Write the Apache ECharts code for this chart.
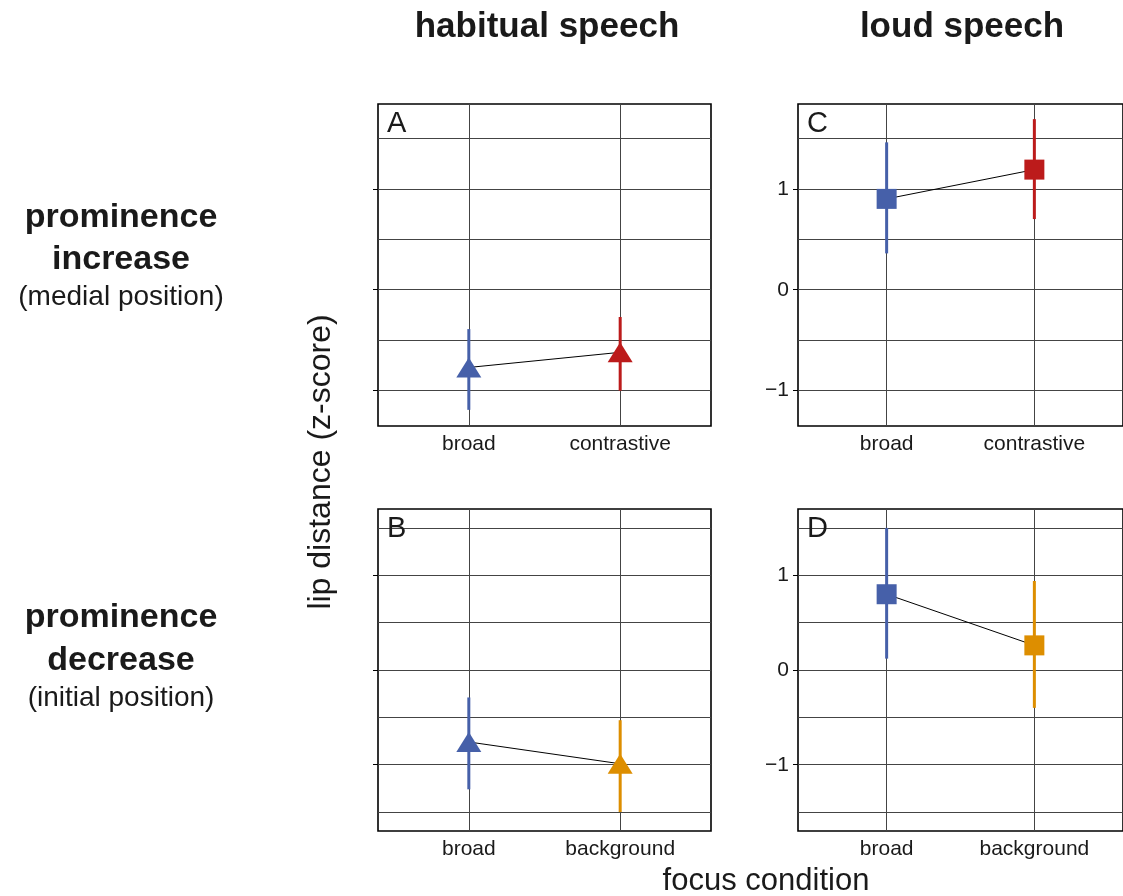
<!DOCTYPE html>
<html>
<head>
<meta charset="utf-8">
<script src="https://cdn.jsdelivr.net/npm/echarts@6/dist/echarts.min.js"></script>
<style>
  html, body { margin: 0; padding: 0; background: #fff; }
  #chart { width: 1123px; height: 896px; }
</style>
</head>
<body>
<div id="chart"></div>
<script>
// categories
const catsIncrease = ['broad', 'contrastive']
const catsDecrease = ['broad', 'background']

// panel A: habitual speech, prominence increase
const habIncMean = [-0.77, -0.62]
const habIncLow = [-1.19, -1.0]
const habIncHigh = [-0.39, -0.27]
// panel C: loud speech, prominence increase
const loudIncMean = [0.9, 1.19]
const loudIncLow = [0.36, 0.7]
const loudIncHigh = [1.46, 1.69]
// panel B: habitual speech, prominence decrease
const habDecMean = [-0.76, -0.99]
const habDecLow = [-1.26, -1.5]
const habDecHigh = [-0.29, -0.53]
// panel D: loud speech, prominence decrease
const loudDecMean = [0.8, 0.26]
const loudDecLow = [0.12, -0.4]
const loudDecHigh = [1.5, 0.94]

const yTicks = [-1, 0, 1]
const gridLinesTop = [-1, -0.5, 0, 0.5, 1, 1.5]
const gridLinesBottom = [-1.5, -1, -0.5, 0, 0.5, 1, 1.5]

const colorOf = {
  broad: '#4660a9',
  contrastive: '#bc1b1b',
  background: '#dd8e00'
}

const FONT = 'Liberation Sans, Arial, sans-serif'

const panels = [
  { letter: 'A', left: 378, top: 104, yMin: -1.35, yMax: 1.84, labels: false, cats: catsIncrease, mean: habIncMean, low: habIncLow, high: habIncHigh, symbol: 'triangle', lines: gridLinesTop },
  { letter: 'C', left: 798, top: 104, yMin: -1.35, yMax: 1.84, labels: true, cats: catsIncrease, mean: loudIncMean, low: loudIncLow, high: loudIncHigh, symbol: 'rect', lines: gridLinesTop },
  { letter: 'B', left: 378, top: 509, yMin: -1.7, yMax: 1.7, labels: false, cats: catsDecrease, mean: habDecMean, low: habDecLow, high: habDecHigh, symbol: 'triangle', lines: gridLinesBottom },
  { letter: 'D', left: 798, top: 509, yMin: -1.7, yMax: 1.7, labels: true, cats: catsDecrease, mean: loudDecMean, low: loudDecLow, high: loudDecHigh, symbol: 'rect', lines: gridLinesBottom }
]

const grids = []
const xAxes = []
const yAxes = []
const series = []

panels.forEach((p, i) => {
  grids.push({
    left: p.left,
    top: p.top,
    width: 333,
    height: 322,
    show: true,
    borderColor: '#000',
    borderWidth: 1.6,
    backgroundColor: 'transparent'
  })
  xAxes.push({
    gridIndex: i,
    type: 'value',
    min: 0.4,
    max: 2.6,
    splitLine: { show: false },
    axisLine: { show: false },
    axisTick: { show: true, inside: false, length: 5, customValues: [1, 2], lineStyle: { color: '#000' } },
    axisLabel: {
      customValues: [1, 2],
      formatter: (v) => p.cats[Math.round(v) - 1],
      color: '#1a1a1a',
      fontSize: 21,
      fontFamily: FONT,
      margin: 8
    }
  })
  yAxes.push({
    gridIndex: i,
    type: 'value',
    min: p.yMin,
    max: p.yMax,
    splitLine: { show: false },
    axisLine: { show: false },
    axisTick: { show: true, inside: false, length: 5, customValues: yTicks, lineStyle: { color: '#000' } },
    axisLabel: {
      show: p.labels,
      customValues: yTicks,
      formatter: (v) => (v < 0 ? '\u2212' + Math.abs(v) : String(v)),
      color: '#1a1a1a',
      fontSize: 21,
      fontFamily: FONT,
      margin: 9
    }
  })

  // grid lines
  series.push({
    type: 'line',
    xAxisIndex: i,
    yAxisIndex: i,
    data: [],
    z: 1,
    silent: true,
    markLine: {
      z: 1,
      silent: true,
      symbol: 'none',
      label: { show: false },
      animation: false,
      lineStyle: { color: '#444', width: 1, type: 'solid' },
      data: p.lines.map((v) => ({ yAxis: v })).concat([{ xAxis: 1 }, { xAxis: 2 }])
    }
  })

  // error bars
  series.push({
    type: 'custom',
    xAxisIndex: i,
    yAxisIndex: i,
    z: 3,
    data: p.cats.map((c, k) => [k + 1, p.low[k], p.high[k]]),
    renderItem: (params, api) => {
      const lo = api.coord([api.value(0), api.value(1)])
      const hi = api.coord([api.value(0), api.value(2)])
      return {
        type: 'line',
        shape: { x1: lo[0], y1: lo[1], x2: hi[0], y2: hi[1] },
        style: { stroke: colorOf[p.cats[params.dataIndex]], lineWidth: 3 }
      }
    }
  })

  // means
  series.push({
    type: 'line',
    xAxisIndex: i,
    yAxisIndex: i,
    z: 4,
    symbol: p.symbol,
    symbolSize: p.symbol === 'triangle' ? [25, 20] : [20, 20],
    lineStyle: { color: '#000', width: 1 },
    data: p.cats.map((c, k) => ({
      value: [k + 1, p.mean[k]],
      itemStyle: { color: colorOf[c], opacity: 1 }
    }))
  })
})

const texts = [
  { text: 'habitual speech', x: 547, y: 27, size: 35, weight: 'bold' },
  { text: 'loud speech', x: 962, y: 27, size: 35, weight: 'bold' },
  { text: 'prominence', x: 121, y: 218, size: 34, weight: 'bold' },
  { text: 'increase', x: 121, y: 260, size: 34, weight: 'bold' },
  { text: '(medial position)', x: 121, y: 297, size: 28, weight: 'normal' },
  { text: 'prominence', x: 121, y: 618, size: 34, weight: 'bold' },
  { text: 'decrease', x: 121, y: 661, size: 34, weight: 'bold' },
  { text: '(initial position)', x: 121, y: 698, size: 28, weight: 'normal' },
  { text: 'focus condition', x: 766, y: 881, size: 31, weight: 'normal' }
]

const graphic = texts.map((t) => ({
  type: 'text',
  x: t.x,
  y: t.y,
  style: {
    text: t.text,
    fill: '#1a1a1a',
    font: `${t.weight} ${t.size}px ${FONT}`,
    align: 'center',
    verticalAlign: 'middle'
  }
}))

graphic.push({
  type: 'text',
  x: 321,
  y: 462,
  rotation: Math.PI / 2,
  style: {
    text: 'lip distance (z-score)',
    fill: '#1a1a1a',
    font: `normal 32px ${FONT}`,
    align: 'center',
    verticalAlign: 'middle'
  }
})

panels.forEach((p) => {
  graphic.push({
    type: 'text',
    x: p.left + 9,
    y: p.top + 20,
    z: 10,
    style: {
      text: p.letter,
      fill: '#1a1a1a',
      font: `normal 29px ${FONT}`,
      align: 'left',
      verticalAlign: 'middle'
    }
  })
})

const myChart = echarts.init(document.getElementById('chart'))
myChart.setOption({
  animation: false,
  backgroundColor: '#fff',
  grid: grids,
  xAxis: xAxes,
  yAxis: yAxes,
  series: series,
  graphic: graphic
})
</script>
</body>
</html>
